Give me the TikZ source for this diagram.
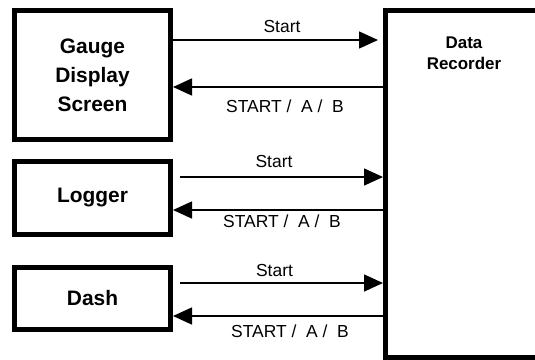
\documentclass[tikz,border=0pt]{standalone}
\usepackage{fontspec}
\setmainfont{Liberation Sans}
\usetikzlibrary{arrows.meta}
\begin{document}
\begin{tikzpicture}[x=1bp,y=-1bp,
  box/.style={draw, line width=5bp, minimum width=156bp, inner sep=0pt, align=center,
    font=\bfseries\fontsize{21}{29}\selectfont},
  arr/.style={line width=1.5bp, -{Triangle[length=19bp,width=17bp]}},
  lbl/.style={font=\fontsize{17.5}{20}\selectfont, inner sep=0pt, anchor=base}]
\useasboundingbox (0,0) rectangle (535,359);
\clip (0,0) rectangle (535,359);
% boxes
\node[box, minimum height=129bp] (gauge) at (92.5,75) {Gauge\\Display\\Screen};
\node[box, minimum height=73bp] (logger) at (92.5,198) {Logger};
\node[box, minimum height=62bp] (dash) at (92.5,298.5) {Dash};
\node[draw, line width=5bp, minimum width=159.5bp, minimum height=347bp, inner sep=0pt] (rec) at (465.25,184) {};
\node[font=\bfseries\fontsize{17}{21}\selectfont, align=center, anchor=north, inner sep=0pt] (rectxt) at (464,37) {Data\\Recorder};
% rows
\coordinate (y1) at (0,40);
\coordinate (y2) at (0,87);
\coordinate (y3) at (0,177);
\coordinate (y4) at (0,210);
\coordinate (y5) at (0,283);
\coordinate (y6) at (0,316);
% connectors
\draw[arr, shorten >=5bp] (gauge.east |- y1) -- (rec.west |- y1);
\draw[arr] (rec.west |- y2) -- (gauge.east |- y2);
\draw[arr, shorten <=7bp] (logger.east |- y3) -- (rec.west |- y3);
\draw[arr] (rec.west |- y4) -- (logger.east |- y4);
\draw[arr, shorten <=7bp] (dash.east |- y5) -- (rec.west |- y5);
\draw[arr] (rec.west |- y6) -- (dash.east |- y6);
% labels
\node[lbl] (s1) at (282,32) {Start};
\node[lbl] (r1) at (285,112) {START /\ \ A /\ \ B};
\node[lbl] (s2) at (274,167) {Start};
\node[lbl] (r2) at (282,227) {START /\ \ A /\ \ B};
\node[lbl] (s3) at (274.5,276) {Start};
\node[lbl] (r3) at (290,337) {START /\ \ A /\ \ B};
\end{tikzpicture}
\end{document}
